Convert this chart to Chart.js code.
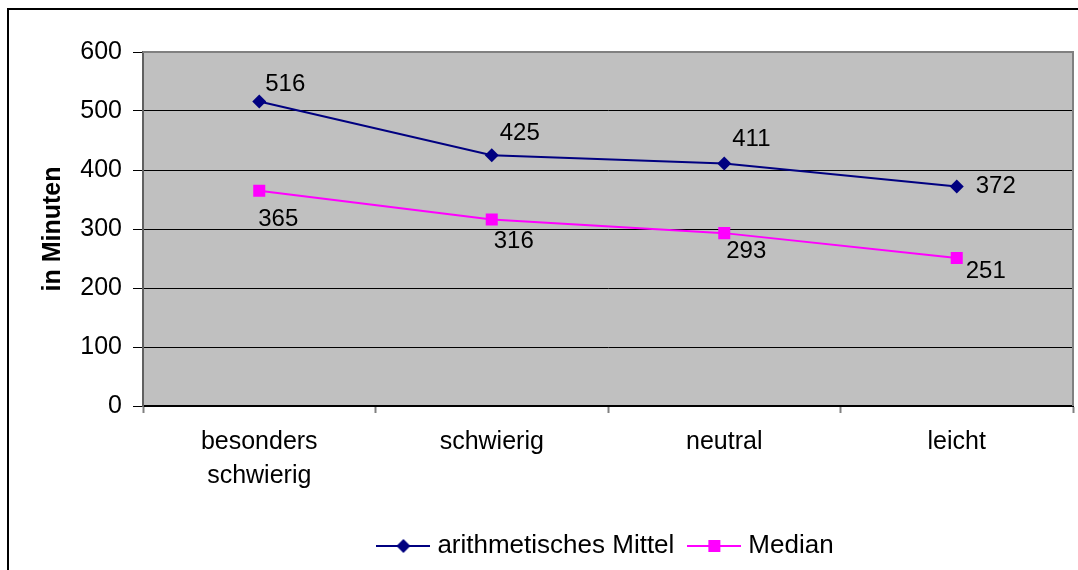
<!DOCTYPE html>
<html>
<head>
<meta charset="utf-8">
<script src="https://cdn.jsdelivr.net/npm/chart.js@4/dist/chart.umd.min.js"></script>
<style>
  html, body { margin: 0; padding: 0; background: #ffffff; }
  #wrap { width: 1078px; height: 570px; position: relative; }
</style>
</head>
<body>
<div id="wrap"><canvas id="c" width="1078" height="570"></canvas></div>
<script>
// Categories and series values
const categories = [['besonders', 'schwierig'], 'schwierig', 'neutral', 'leicht'];
const meanValues = [516, 425, 411, 372];
const medianValues = [365, 316, 293, 251];
const seriesNames = ['arithmetisches Mittel', 'Median'];
const yTicks = [0, 100, 200, 300, 400, 500, 600];
const yTitle = 'in Minuten';

// Label offsets (px) relative to each point, per series
const meanLabelOffsets = [[6, -17], [8, -22], [8, -24], [19, 0]];
const medianLabelOffsets = [[-1, 29], [2, 22], [2, 18], [9, 13]];

const FONT = "'Liberation Sans', Arial, sans-serif";
const NAVY = '#000080';
const MAGENTA = '#FF00FF';

// Small legend symbol: line with marker in the middle
function legendSymbol(color, shape) {
  const cv = document.createElement('canvas');
  cv.width = 54; cv.height = 16;
  const g = cv.getContext('2d');
  g.strokeStyle = color; g.lineWidth = 2;
  g.beginPath(); g.moveTo(0, 8); g.lineTo(54, 8); g.stroke();
  g.fillStyle = color;
  g.beginPath();
  if (shape === 'diamond') {
    g.moveTo(27, 1); g.lineTo(34, 8); g.lineTo(27, 15); g.lineTo(20, 8); g.closePath();
  } else {
    g.rect(21, 2, 12, 12);
  }
  g.fill();
  return cv;
}

// Grey plot area, border and outer frame
const frame = {
  id: 'frame',
  afterLayout(chart) {
    // centre the legend under the plot area
    const a = chart.chartArea;
    if (chart.legend) {
      chart.legend.left = a.left;
      chart.legend.right = a.right;
    }
  },
  beforeDraw(chart) {
    const { ctx, chartArea: a } = chart;
    ctx.save();
    ctx.fillStyle = '#ffffff';
    ctx.fillRect(0, 0, chart.width, chart.height);
    ctx.strokeStyle = '#000000';
    ctx.lineWidth = 2;
    ctx.beginPath();
    ctx.moveTo(8, chart.height);
    ctx.lineTo(8, 9);
    ctx.lineTo(chart.width, 9);
    ctx.stroke();
    ctx.fillStyle = '#C0C0C0';
    ctx.fillRect(a.left, a.top, a.right - a.left, a.bottom - a.top);
    ctx.restore();
  },
  afterDatasetsDraw(chart) {
    const { ctx, chartArea: a } = chart;
    ctx.save();
    ctx.strokeStyle = '#808080';
    ctx.lineWidth = 2;
    ctx.beginPath();
    ctx.moveTo(a.left, a.top);
    ctx.lineTo(a.right, a.top);
    ctx.lineTo(a.right, a.bottom);
    ctx.stroke();
    ctx.restore();
  }
};

// Value labels beside each point
const valueLabels = {
  id: 'valueLabels',
  afterDatasetsDraw(chart) {
    const { ctx } = chart;
    const offsets = [meanLabelOffsets, medianLabelOffsets];
    ctx.save();
    ctx.font = '24px ' + FONT;
    ctx.fillStyle = '#000000';
    ctx.textAlign = 'left';
    ctx.textBaseline = 'middle';
    chart.data.datasets.forEach((ds, di) => {
      const meta = chart.getDatasetMeta(di);
      meta.data.forEach((pt, i) => {
        const [dx, dy] = offsets[di][i];
        ctx.fillText(String(ds.data[i]), pt.x + dx, pt.y + dy);
      });
    });
    ctx.restore();
  }
};

new Chart(document.getElementById('c'), {
  type: 'line',
  data: {
    labels: categories,
    datasets: [
      {
        label: seriesNames[0],
        data: meanValues,
        borderColor: NAVY,
        backgroundColor: NAVY,
        borderWidth: 2,
        pointStyle: 'rectRot',
        pointRadius: 7,
        pointHoverRadius: 7,
        pointBorderWidth: 0,
        tension: 0
      },
      {
        label: seriesNames[1],
        data: medianValues,
        borderColor: MAGENTA,
        backgroundColor: MAGENTA,
        borderWidth: 2,
        pointStyle: 'rect',
        pointRadius: 8.5,
        pointHoverRadius: 8.5,
        pointBorderWidth: 0,
        tension: 0
      }
    ]
  },
  options: {
    responsive: false,
    animation: false,
    events: [],
    layout: { autoPadding: false, padding: { left: 0, top: 52, right: 5, bottom: 1 } },
    plugins: {
      tooltip: { enabled: false },
      legend: {
        position: 'bottom',
        labels: {
          usePointStyle: true,
          pointStyleWidth: 42,
          color: '#000000',
          font: { family: FONT, size: 26 },
          padding: 19,
          generateLabels(chart) {
            return chart.data.datasets.map((ds, i) => ({
              text: ds.label,
              pointStyle: legendSymbol(ds.borderColor, i === 0 ? 'diamond' : 'square'),
              fillStyle: ds.borderColor,
              strokeStyle: ds.borderColor,
              lineWidth: 0,
              hidden: false,
              datasetIndex: i,
              fontColor: '#000000'
            }));
          }
        }
      }
    },
    scales: {
      x: {
        offset: true,
        grid: {
          offset: true,
          drawOnChartArea: false,
          drawTicks: true,
          tickLength: 7,
          tickColor: '#808080',
          tickWidth: 2
        },
        border: { color: '#000000', width: 2 },
        ticks: {
          color: '#000000',
          font: { family: FONT, size: 25, lineHeight: 1.36 },
          padding: 12,
          maxRotation: 0,
          autoSkip: false
        },
        afterFit(scale) {
          scale.height = 108;
          scale.paddingLeft = 0;
          scale.paddingRight = 0;
        }
      },
      y: {
        min: 0,
        max: 600,
        afterBuildTicks(scale) { scale.ticks = yTicks.map(v => ({ value: v })); },
        grid: {
          color: '#000000',
          lineWidth: 1,
          drawTicks: true,
          tickLength: 10,
          tickColor: '#000000'
        },
        border: { color: '#606060', width: 2 },
        ticks: {
          color: '#000000',
          font: { family: FONT, size: 25 },
          padding: 11
        },
        title: {
          display: true,
          text: yTitle,
          color: '#000000',
          font: { family: FONT, size: 25, weight: 'bold' },
          padding: { top: 38, bottom: 0 }
        },
        afterFit(scale) { scale.width = 143; }
      }
    }
  },
  plugins: [frame, valueLabels]
});
</script>
</body>
</html>
